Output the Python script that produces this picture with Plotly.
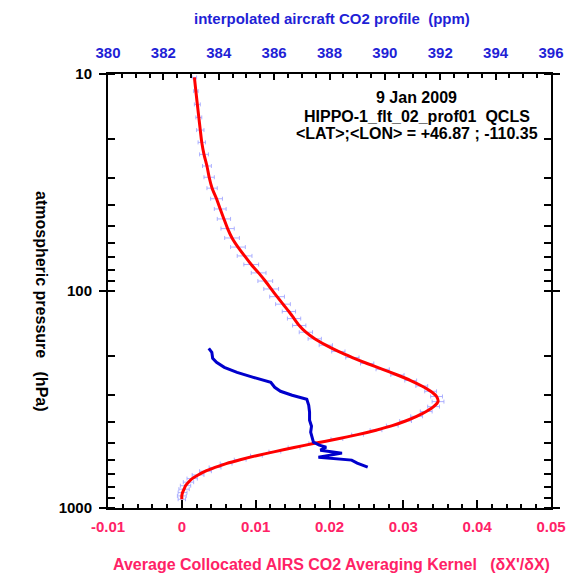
import plotly.graph_objects as go

# AIRS standard pressure levels (hPa) between 10 hPa and the surface
airs_levels = [10.37, 11.99, 13.81, 15.85, 18.13, 20.66, 23.46, 26.54, 29.91, 33.58,
               37.56, 41.88, 46.54, 51.57, 56.96, 62.74, 68.92, 75.51, 82.52, 89.97,
               97.86, 106.2, 115.0, 124.3, 134.0, 144.2, 154.9, 166.1, 177.7, 189.9,
               202.6, 215.8, 229.5, 243.8, 258.6, 274.0, 289.9, 306.3, 323.4, 341.0,
               359.2, 378.0, 397.3, 417.3, 437.9, 459.1, 480.9, 503.3, 526.3, 549.9,
               574.1, 598.9, 624.3, 650.3, 676.9, 704.1, 731.9, 760.3, 789.3, 818.9,
               849.1, 879.8, 911.2]

# Average collocated AIRS CO2 averaging kernel on those levels
avg_kernel = [0.0017, 0.0019, 0.0021, 0.0023, 0.0025, 0.0027, 0.0030, 0.0034, 0.0037, 0.0041,
              0.0047, 0.0052, 0.0057, 0.0062, 0.0068, 0.0076, 0.0085, 0.0094, 0.0104, 0.0113,
              0.0121, 0.0129, 0.0137, 0.0145, 0.0152, 0.0159, 0.0168, 0.0180, 0.0195, 0.0212,
              0.0231, 0.0251, 0.0272, 0.0292, 0.0310, 0.0325, 0.0337, 0.0345, 0.0347, 0.0341,
              0.0331, 0.0318, 0.0303, 0.0285, 0.0263, 0.0238, 0.0210, 0.0180, 0.0152, 0.0126,
              0.0101, 0.0079, 0.0060, 0.0045, 0.0032, 0.0022, 0.0014, 0.0009, 0.0005, 0.0003,
              0.0001, 0.0000, 0.0000]

# Spread of the collocated kernels about the average
kernel_spread = [0.0003, 0.0003, 0.0004, 0.0004, 0.0005, 0.0005, 0.0006, 0.0006, 0.0007, 0.0007,
                 0.0008, 0.0008, 0.0009, 0.0009, 0.0010, 0.0010, 0.0010, 0.0010, 0.0010, 0.0010,
                 0.0010, 0.0010, 0.0010, 0.0009, 0.0009, 0.0009, 0.0009, 0.0009, 0.0009, 0.0009,
                 0.0009, 0.0009, 0.0009, 0.0009, 0.0008, 0.0008, 0.0008, 0.0008, 0.0008, 0.0008,
                 0.0008, 0.0008, 0.0008, 0.0008, 0.0008, 0.0008, 0.0008, 0.0008, 0.0008, 0.0008,
                 0.0008, 0.0008, 0.0008, 0.0008, 0.0008, 0.0008, 0.0007, 0.0007, 0.0007, 0.0007,
                 0.0006, 0.0006, 0.0005]

# Interpolated aircraft CO2 profile (QCLS)
co2_pressure = [183.8, 191.8, 204.3, 213.2, 224.7, 237.0, 249.9, 263.5, 277.8, 289.8,
                302.3, 315.4, 336.1, 361.9, 393.9, 419.8, 447.3, 476.7, 497.4, 513.3,
                524.3, 541.2, 558.7, 583.0, 601.6, 621.0, 634.4, 647.9]
co2_ppm = [383.64, 383.75, 383.78, 383.92, 384.20, 384.66, 385.25, 385.88, 386.02, 386.23,
           386.65, 387.18, 387.25, 387.28, 387.28, 387.35, 387.32, 387.39, 387.42, 387.63,
           387.88, 387.67, 388.45, 387.60, 388.80, 389.00, 389.21, 389.38]

kernel_ticks = [-0.01, 0, 0.01, 0.02, 0.03, 0.04, 0.05]
kernel_ticktext = ["-0.01", "0", "0.01", "0.02", "0.03", "0.04", "0.05"]
ppm_ticks = [380, 382, 384, 386, 388, 390, 392, 394, 396]
pressure_ticks = [10, 100, 1000]
pressure_minor = [20, 30, 40, 50, 60, 70, 80, 90, 200, 300, 400, 500, 600, 700, 800, 900]

info_lines = ["9 Jan 2009",
              "HIPPO-1_flt_02_prof01 \u00a0QCLS",
              "&lt;LAT&gt;;&lt;LON&gt; = +46.87 ; -110.35"]

BLUE_TXT = "#1f1fd6"
PINK_TXT = "#ff2266"
FONT = "Liberation Sans, Arial, sans-serif"

fig = go.Figure()

# kernel spread bars (drawn beneath the average kernel line)
fig.add_trace(go.Scatter(
    x=avg_kernel, y=airs_levels, mode="markers",
    marker=dict(size=1, color="rgba(0,0,0,0)"),
    error_x=dict(type="data", array=kernel_spread, visible=True,
                 color="rgba(160,165,255,0.85)", thickness=1, width=2),
    xaxis="x", yaxis="y", showlegend=False, hoverinfo="skip"))

# average kernel
fig.add_trace(go.Scatter(
    x=avg_kernel, y=airs_levels, mode="lines",
    line=dict(color="#ff0000", width=3, shape="spline", smoothing=0.6),
    xaxis="x", yaxis="y", showlegend=False))

# aircraft CO2 profile
fig.add_trace(go.Scatter(
    x=co2_ppm, y=co2_pressure, mode="lines",
    line=dict(color="#0000cc", width=3),
    xaxis="x2", yaxis="y", showlegend=False))

axis_common = dict(showgrid=False, zeroline=False, showline=True,
                   linecolor="black", linewidth=2)

fig.update_layout(
    width=578, height=584,
    margin=dict(l=108, r=15, t=74, b=76),
    paper_bgcolor="white", plot_bgcolor="white",
    font=dict(family=FONT, size=14, color="black"),
    xaxis=dict(
        **axis_common, range=[-0.01, 0.05],
        tickmode="array", tickvals=kernel_ticks, ticktext=kernel_ticktext,
        ticks="inside", ticklen=8, tickwidth=2, tickcolor="black",
        minor=dict(dtick=0.002, ticks="inside", ticklen=4, tickwidth=2, tickcolor="black"),
        tickfont=dict(family=FONT, size=15, color=PINK_TXT, weight="bold"),
        ticklabelstandoff=4,
    ),
    xaxis2=dict(
        **axis_common, range=[380, 396], overlaying="x", side="top", anchor="y",
        tickmode="array", tickvals=ppm_ticks,
        ticks="inside", ticklen=6, tickwidth=2, tickcolor="black",
        minor=dict(dtick=0.5, ticks="inside", ticklen=4, tickwidth=2, tickcolor="black"),
        tickfont=dict(family=FONT, size=15, color=BLUE_TXT, weight="bold"),
        ticklabelstandoff=8,
    ),
    yaxis=dict(
        **axis_common, type="log", range=[3, 1], mirror="allticks",
        tickmode="array", tickvals=pressure_ticks, ticktext=["10", "100", "1000"],
        ticks="outside", ticklen=7, tickwidth=2, tickcolor="black",
        minor=dict(tickmode="array", tickvals=pressure_minor, ticks="inside",
                   ticklen=5, tickwidth=2, tickcolor="black"),
        tickfont=dict(family=FONT, size=15, color="black", weight="bold"),
        ticklabelstandoff=4,
    ),
)

# axis titles
fig.add_annotation(
    xref="paper", yref="paper", x=0.505, y=1.129, xanchor="center", yanchor="middle",
    text="interpolated aircraft CO2 profile \u00a0(ppm)", showarrow=False,
    font=dict(family=FONT, size=15, color=BLUE_TXT, weight="bold"))
fig.add_annotation(
    xref="paper", yref="paper", x=0.505, y=-0.131, xanchor="center", yanchor="middle",
    text="Average Collocated AIRS CO2 Averaging Kernel \u00a0\u00a0(\u03b4X'/\u03b4X)",
    showarrow=False,
    font=dict(family=FONT, size=16, color=PINK_TXT, weight="bold"))
fig.add_annotation(
    xref="paper", yref="paper", x=-0.1516, y=0.475, xanchor="center", yanchor="middle",
    text="atmospheric pressure \u00a0\u00a0(hPa)", textangle=90, showarrow=False,
    font=dict(family=FONT, size=16, color="black", weight="bold"))

# flight information block
for line_text, ypos in zip(info_lines, [0.947, 0.903, 0.862]):
    fig.add_annotation(
        xref="paper", yref="paper", x=0.697, y=ypos, xanchor="center", yanchor="middle",
        text=line_text, showarrow=False,
        font=dict(family=FONT, size=16, color="black", weight="bold"))

fig.write_html("out.html")
